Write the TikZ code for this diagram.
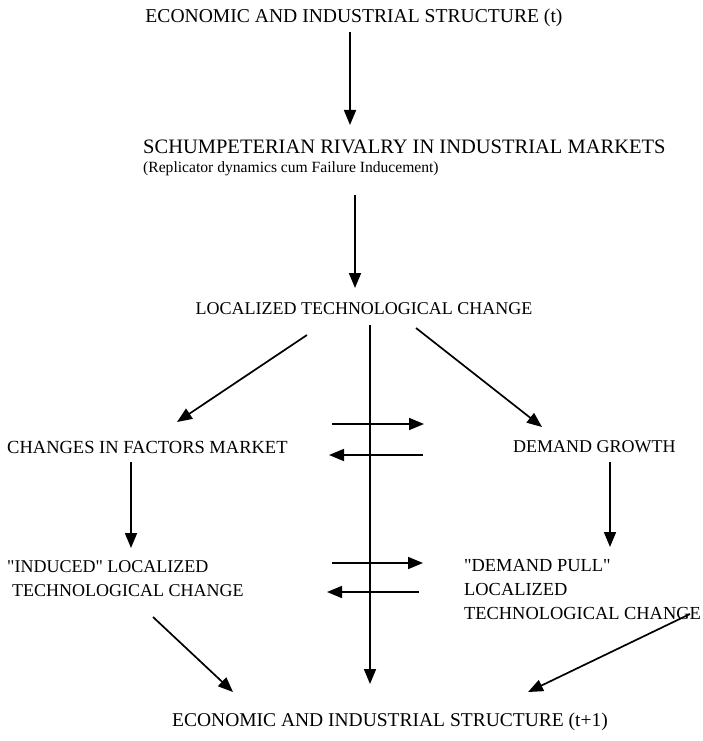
\documentclass[tikz,border=0pt]{standalone}
\usepackage{fontspec}
\setmainfont{Liberation Serif}
\usetikzlibrary{arrows.meta, positioning}
\tikzset{
  txt/.style={inner sep=0pt, font=\fontsize{18}{24}\selectfont},
  lefttxt/.style={txt, anchor=west, align=left},
  arr/.style={-{Triangle[length=15pt,width=12pt]}, line width=1.7pt, color=black},
  line/.style={line width=1.7pt, color=black}
}
\begin{document}
\begin{tikzpicture}[x=1pt, y=-1pt]
  \useasboundingbox (0,0) rectangle (703,741);

  % Nodes
  \node[txt, font=\fontsize{19.6}{22}\selectfont] (est) at (354,18) {ECONOMIC AND INDUSTRIAL STRUCTURE (t)};
  \node[lefttxt, font=\fontsize{20.5}{24}\selectfont] (rivalry) at (143,147) {SCHUMPETERIAN RIVALRY IN INDUSTRIAL MARKETS};
  \node[lefttxt, font=\fontsize{15.6}{20}\selectfont] (repl) at (143,169) {(Replicator dynamics cum Failure Inducement)};
  \node[txt] (ltc) at (364,309) {LOCALIZED TECHNOLOGICAL CHANGE};
  \node[lefttxt, font=\fontsize{18.5}{24}\selectfont] (factors) at (7,447) {CHANGES IN FACTORS MARKET};
  \node[lefttxt] (demand) at (513,447) {DEMAND GROWTH};
  \node[lefttxt] (induced) at (7,579) {\textquotedbl INDUCED\textquotedbl\ LOCALIZED\\\hspace*{5pt}TECHNOLOGICAL CHANGE};
  \node[lefttxt, font=\fontsize{18.4}{24}\selectfont] (pull) at (464,590) {\textquotedbl DEMAND PULL\textquotedbl\\LOCALIZED\\TECHNOLOGICAL CHANGE};
  \node[txt, font=\fontsize{19.5}{22}\selectfont] (est1) at (390,722) {ECONOMIC AND INDUSTRIAL STRUCTURE (t+1)};

  % Arrow ends
  \coordinate (a1s) at (350,32);   \coordinate (a1e) at (350,125);
  \coordinate (a2s) at (355,195);  \coordinate (a2e) at (355,288);
  \coordinate (mids) at (370,325); \coordinate (mide) at (370,684);
  \coordinate (dls) at (307,335);  \coordinate (dle) at (177,422);
  \coordinate (drs) at (416,328);  \coordinate (dre) at (542,427);
  \coordinate (fs) at (131,462);   \coordinate (fe) at (131,548);
  \coordinate (gs) at (610,462);   \coordinate (ge) at (610,547);
  \coordinate (bls) at (153,617);  \coordinate (ble) at (233,692);
  \coordinate (brs) at (690,614);  \coordinate (bre) at (528,692);

  % Connections
  \draw[arr] (a1s) -- (a1e);
  \draw[arr] (a2s) -- (a2e);
  \draw[arr] (mids) -- (mide);
  \draw[arr] (dls) -- (dle);
  \draw[arr] (drs) -- (dre);
  \draw[arr] (fs) -- (fe);
  \draw[arr] (gs) -- (ge);
  \draw[arr] (bls) -- (ble);
  \draw[arr] (brs) -- (bre);

  % Exchanges across the middle line
  \draw[arr] (332,424) -- (424,424);
  \draw[arr] (423,455) -- (329,455);
  \draw[arr] (332,563) -- (423,563);
  \draw[arr] (419,592) -- (327,592);

\end{tikzpicture}
\end{document}
